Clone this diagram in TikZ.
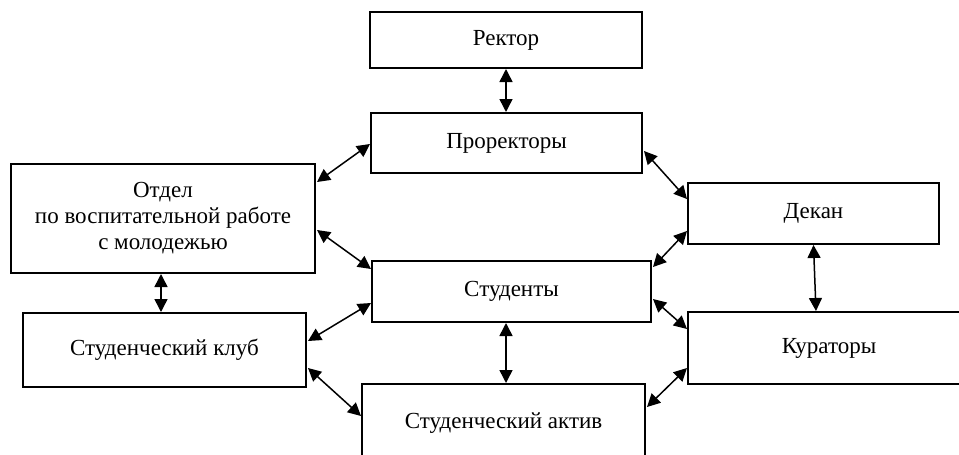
\documentclass[tikz,border=0pt]{standalone}
\usepackage{fontspec}
\setmainfont{Liberation Serif}
\usetikzlibrary{calc,arrows.meta}
\begin{document}
\begin{tikzpicture}[x=1pt,y=-1pt,
  box/.style={draw=black,line width=2pt,rectangle,inner sep=0pt,align=center,font=\fontsize{23}{26}\selectfont},
  link/.style={line width=1.5pt,{Triangle[length=13pt,width=13pt]}-{Triangle[length=13pt,width=13pt]}}]
\useasboundingbox (0,0) rectangle (959,455);
\clip (0,0) rectangle (959,455);
\node[box,minimum width=272pt,minimum height=56pt] (rector) at (506,40) {Ректор};
\node[box,minimum width=271pt,minimum height=60pt] (prorector) at (506.5,143) {Проректоры};
\node[box,minimum width=304pt,minimum height=109pt] (otdel) at (163,218.5) {Отдел\\по воспитательной работе\\с молодежью};
\node[box,minimum width=283pt,minimum height=74pt] (club) at (164.5,350) {Студенческий клуб};
\node[box,minimum width=279pt,minimum height=61pt] (students) at (511.5,291.5) {Студенты};
\node[box,minimum width=283pt,minimum height=78pt] (aktiv) at (503.5,423) {Студенческий актив};
\node[box,minimum width=251pt,minimum height=61pt] (dekan) at (813.5,213.5) {Декан};
\node[box,minimum width=282pt,minimum height=72pt] (kurators) at (829,348) {Кураторы};
\draw[link] (rector.south) -- (rector.south |- prorector.north);
\draw[link] ($(otdel.north east)+(1,19)$) -- ($(prorector.north west)+(0,32)$);
\draw[link] ($(otdel.north east)+(1,67)$) -- ($(students.north west)+(0,9)$);
\draw[link] ($(otdel.south)+(-2,0)$) -- ($(club.north)+(-3.5,0)$);
\draw[link] ($(club.north east)+(1,29)$) -- ($(students.south west)+(0,-20)$);
\draw[link] ($(club.south east)+(1,-20)$) -- ($(aktiv.north west)+(0,33)$);
\draw[link] ($(students.south)+(-5.5,0)$) -- ($(aktiv.north)+(2.5,0)$);
\draw[link] ($(prorector.north east)+(1,39)$) -- ($(dekan.north west)+(0,17)$);
\draw[link] ($(dekan.south west)+(0,-14)$) -- ($(students.north east)+(1,7)$);
\draw[link] ($(students.north east)+(1,39)$) -- ($(kurators.north west)+(0,18)$);
\draw[link] ($(kurators.south west)+(0,-17)$) -- ($(aktiv.north east)+(1,24)$);
\draw[link] (dekan.south) -- ($(kurators.north)+(-13,0)$);
\end{tikzpicture}
\end{document}
